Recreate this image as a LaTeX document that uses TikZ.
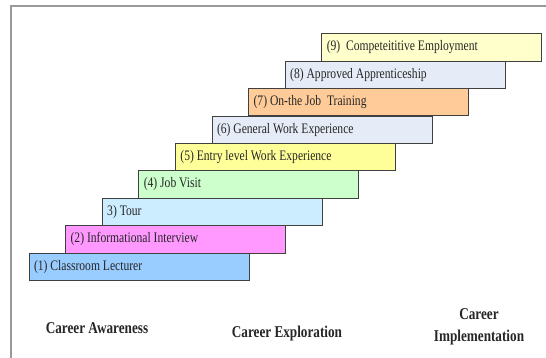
\documentclass[tikz,border=0pt]{standalone}
\usepackage{fontspec}
\setmainfont{Liberation Serif}[FakeStretch=0.8]
\definecolor{cOne}{HTML}{99CCFF}
\definecolor{cTwo}{HTML}{FF99FF}
\definecolor{cThree}{HTML}{CCECFF}
\definecolor{cFour}{HTML}{CCFFCC}
\definecolor{cFive}{HTML}{FFFF99}
\definecolor{cSix}{HTML}{E6ECF7}
\definecolor{cSeven}{HTML}{FFCC99}
\definecolor{cEight}{HTML}{E6ECF7}
\definecolor{cNine}{HTML}{FFFFCC}
\tikzset{
  stepbox/.style={draw=black!75, line width=0.8pt, anchor=north west, outer sep=0pt,
    inner xsep=5pt, inner ysep=0pt, text width=210pt, minimum height=27.3pt,
    align=justify, text=black!85, font=\fontsize{14.5}{16}\selectfont},
  phase/.style={inner sep=0pt, text=black!85, font=\fontsize{16.5}{22}\selectfont\bfseries}
}
\begin{document}
\begin{tikzpicture}[x=1pt, y=-1pt]
		\useasboundingbox (0,0) rectangle (546,358);
		\newcommand{\stepdx}{36.6}
		\newcommand{\stepdy}{27.4}
		% frame
		\draw[black!40, line width=1.5pt] (546,6) -- (11,6) -- (11,358);
		
		% the nine steps
		\foreach \i/\col/\txt in {1/cOne/{(1) Classroom Lecturer},
				2/cTwo/{(2) Informational Interview},
				3/cThree/{3) Tour},
				4/cFour/{(4) Job Visit},
				5/cFive/{(5) Entry level Work Experience},
				6/cSix/{(6) General Work Experience},
				7/cSeven/{(7) On-the Job\ \ Training},
				8/cEight/{(8) Approved Apprenticeship},
				9/cNine/{(9)\ \ Competeititive Employment}}
			\node[stepbox, fill=\col] (s\i) at ({29+(\i-1)*\stepdx}, {253-(\i-1)*\stepdy}) {\txt};
		
		% phases
		\node[phase, anchor=base] (aware) at (97,333) {Career Awareness};
		\node[phase, anchor=base] (explore) at (287,337) {Career Exploration};
		\node[phase, align=center] (implement) at (479,326.6) {Career\\Implementation};
	\end{tikzpicture}
\end{document}
